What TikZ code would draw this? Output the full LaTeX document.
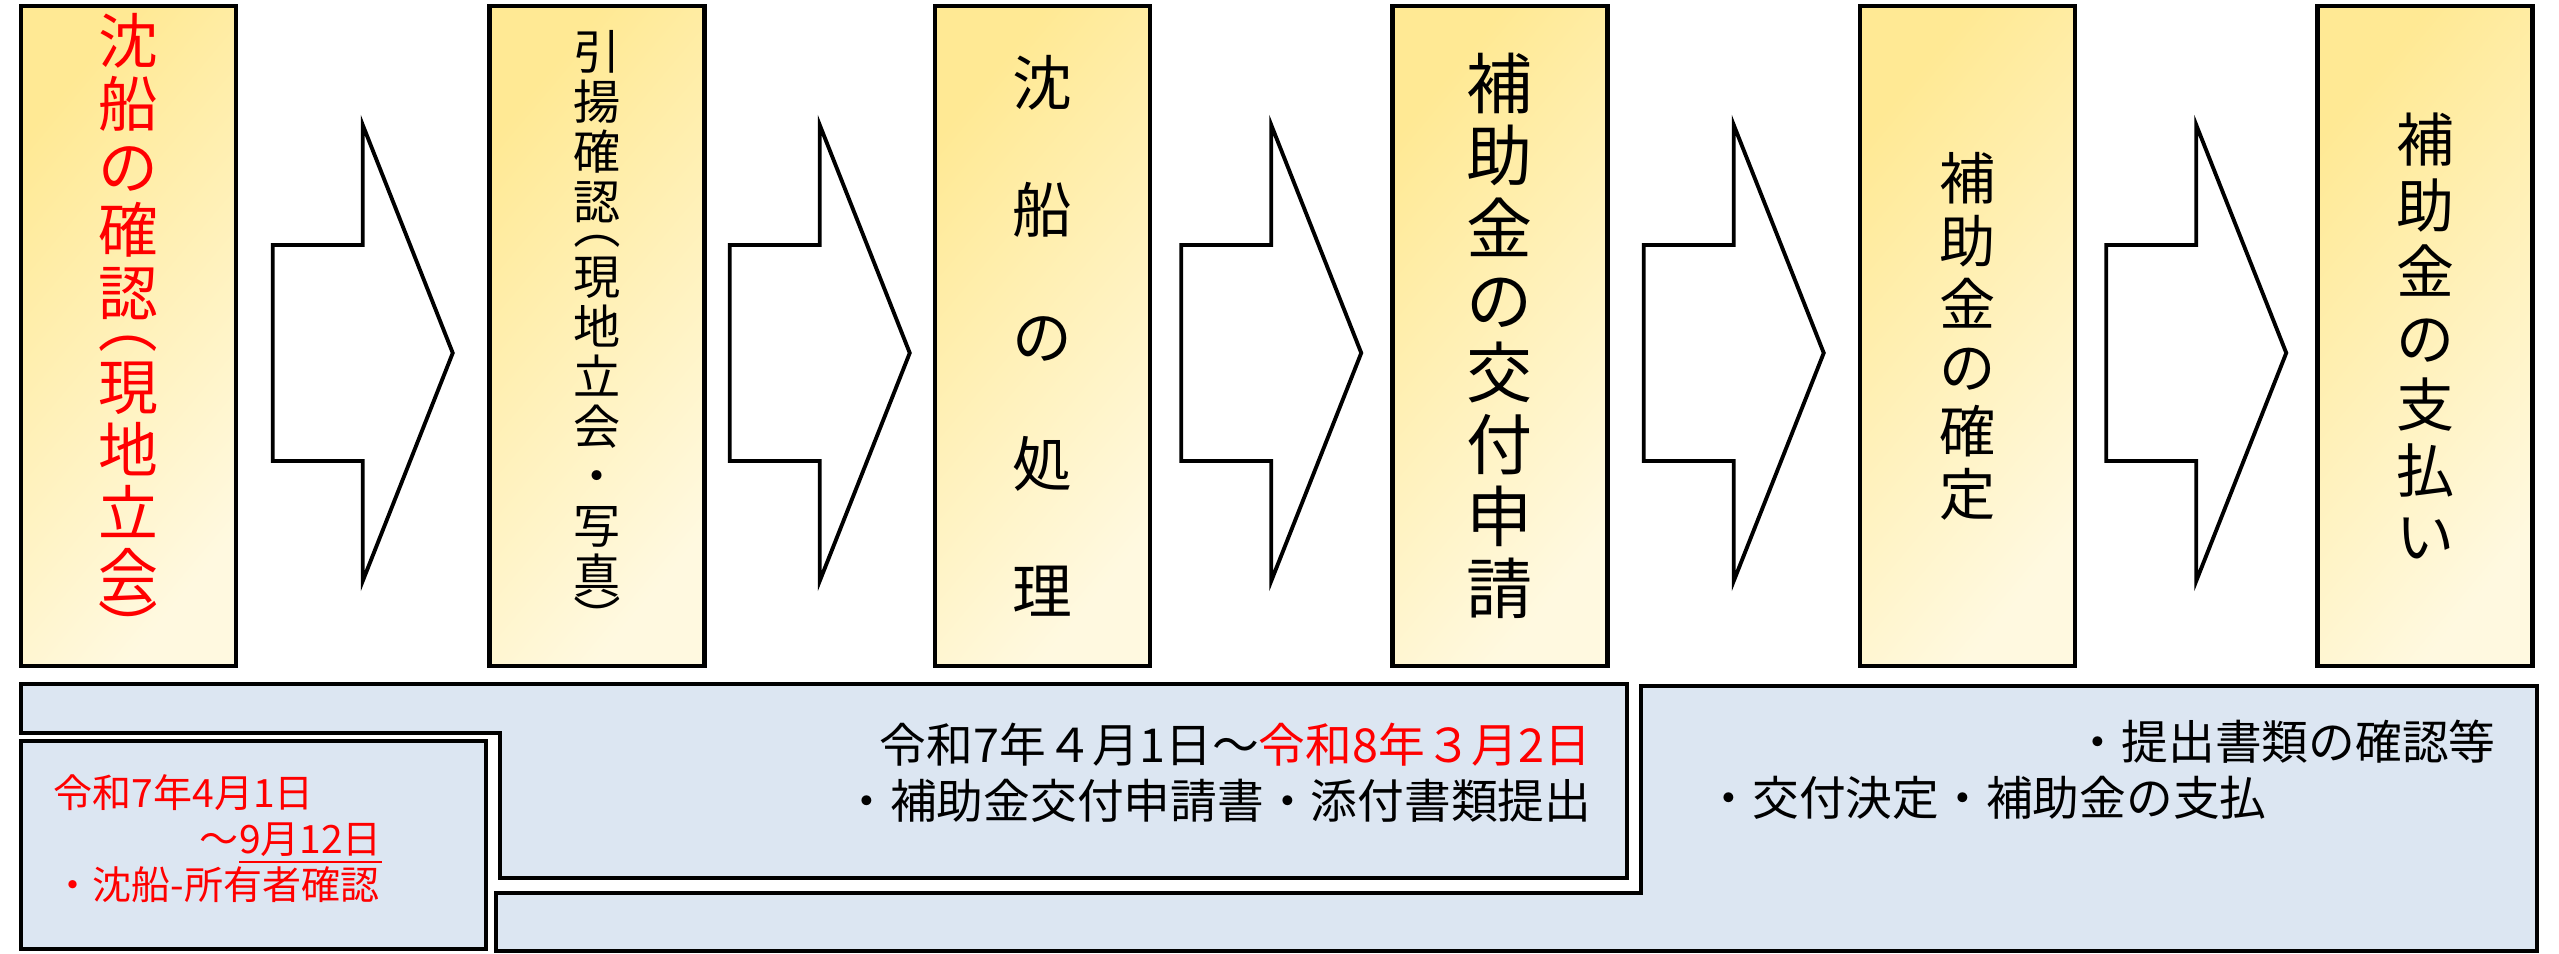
\documentclass[tikz,border=0pt]{standalone}
\usepackage{fontspec}
\setmainfont{Noto Sans CJK JP}
\usepackage{graphicx}
\usepackage{tikz}
\usetikzlibrary{calc}

\definecolor{ylwdeep}{RGB}{255,233,148}
\definecolor{ylwpale}{RGB}{255,249,224}
\definecolor{pblue}{RGB}{220,230,242}
\definecolor{pred}{RGB}{255,0,0}

% vertical brackets
\newcommand{\vopen}{\rotatebox[origin=c]{-90}{（}}
\newcommand{\vclose}{\rotatebox[origin=c]{-90}{）}}

\begin{document}
\begin{tikzpicture}[
        stagebox/.style={draw, line width=1.4pt, minimum width=2.15cm, minimum height=6.6cm, inner sep=0pt, align=center,
            top color=ylwdeep, bottom color=ylwpale, shading angle=50},
        flowarrow/.style={draw, line width=1.1pt, fill=white},
        period/.style={draw, line width=1.3pt, fill=pblue},
        note/.style={inner sep=0pt, font=\fontsize{13.3pt}{15.8pt}\selectfont}
    ]
        \useasboundingbox (0,0) rectangle (25.59,9.54);

        % Steps along the top
        \node[stagebox, text=pred, font=\fontsize{17pt}{17.9pt}\selectfont] (s1) at (1.285,6.18)
            {沈\\船\\の\\確\\認\\[-0.53em]\vopen\\現\\地\\立\\会\\[-0.17em]\vclose};
        \node[stagebox, font=\fontsize{13.4pt}{14.2pt}\selectfont] (s2) at (5.97,6.18)
            {引\\揚\\確\\認\\[-0.53em]\vopen\\現\\地\\立\\会\\・\\写\\真\\[-0.17em]\vclose};
        \node[stagebox, font=\fontsize{17pt}{36.1pt}\selectfont] (s3) at (10.425,6.18) {沈\\船\\の\\処\\理};
        \node[stagebox, font=\fontsize{18.8pt}{20.5pt}\selectfont] (s4) at (15.0,6.18) {補\\助\\金\\の\\交\\付\\申\\請};
        \node[stagebox, font=\fontsize{16pt}{18pt}\selectfont] (s5) at (19.675,6.18) {補\\助\\金\\の\\確\\定};
        \node[stagebox, font=\fontsize{16.5pt}{18.8pt}\selectfont] (s6) at (24.25,6.18) {補\\助\\金\\の\\支\\払\\い};

        % Block arrows between the steps
        \coordinate (a1) at ($(s1.east)!0.5!(s2.west)+(0,-0.17)$);
        \coordinate (a2) at ($(s2.east)!0.5!(s3.west)+(0,-0.17)$);
        \coordinate (a3) at ($(s3.east)!0.5!(s4.west)+(0,-0.17)$);
        \coordinate (a4) at ($(s4.east)!0.5!(s5.west)+(0,-0.17)$);
        \coordinate (a5) at ($(s5.east)!0.5!(s6.west)+(0,-0.17)$);
        \draw[flowarrow, shift={(a1)}] (-0.9,1.08) -- (0,1.08) -- (0,2.28) -- (0.9,0) -- (0,-2.28) -- (0,-1.08) -- (-0.9,-1.08) -- cycle;
        \draw[flowarrow, shift={(a2)}] (-0.9,1.08) -- (0,1.08) -- (0,2.28) -- (0.9,0) -- (0,-2.28) -- (0,-1.08) -- (-0.9,-1.08) -- cycle;
        \draw[flowarrow, shift={(a3)}] (-0.9,1.08) -- (0,1.08) -- (0,2.28) -- (0.9,0) -- (0,-2.28) -- (0,-1.08) -- (-0.9,-1.08) -- cycle;
        \draw[flowarrow, shift={(a4)}] (-0.9,1.08) -- (0,1.08) -- (0,2.28) -- (0.9,0) -- (0,-2.28) -- (0,-1.08) -- (-0.9,-1.08) -- cycle;
        \draw[flowarrow, shift={(a5)}] (-0.9,1.08) -- (0,1.08) -- (0,2.28) -- (0.9,0) -- (0,-2.28) -- (0,-1.08) -- (-0.9,-1.08) -- cycle;

        % Periods below
        \draw[period] (0.21,2.70) -- (16.27,2.70) -- (16.27,0.76) -- (5.00,0.76) -- (5.00,2.21) -- (0.21,2.21) -- cycle;
        \draw[period] (0.21,2.13) rectangle (4.86,0.05);
        \draw[period] (16.41,2.68) -- (25.37,2.68) -- (25.37,0.03) -- (4.96,0.03) -- (4.96,0.61) -- (16.41,0.61) -- cycle;

        \node[note, anchor=west, align=left, text=pred, font=\fontsize{11.1pt}{13.1pt}\selectfont] (pa) at (0.53,1.15)
            {令和7年4月1日\\\hspace*{3.75em}～\underline{9月12日}\\・沈船-所有者確認};
        \node[note, anchor=east, align=right] (pb) at (15.92,1.81)
            {令和7年４月1日～\textcolor{pred}{令和8年３月2日}\\・補助金交付申請書・添付書類提出};
        \node[note, anchor=west, align=left] (pc) at (17.05,1.84)
            {\hspace*{7.9em}・提出書類の確認等\\・交付決定・補助金の支払};
    \end{tikzpicture}
\end{document}
